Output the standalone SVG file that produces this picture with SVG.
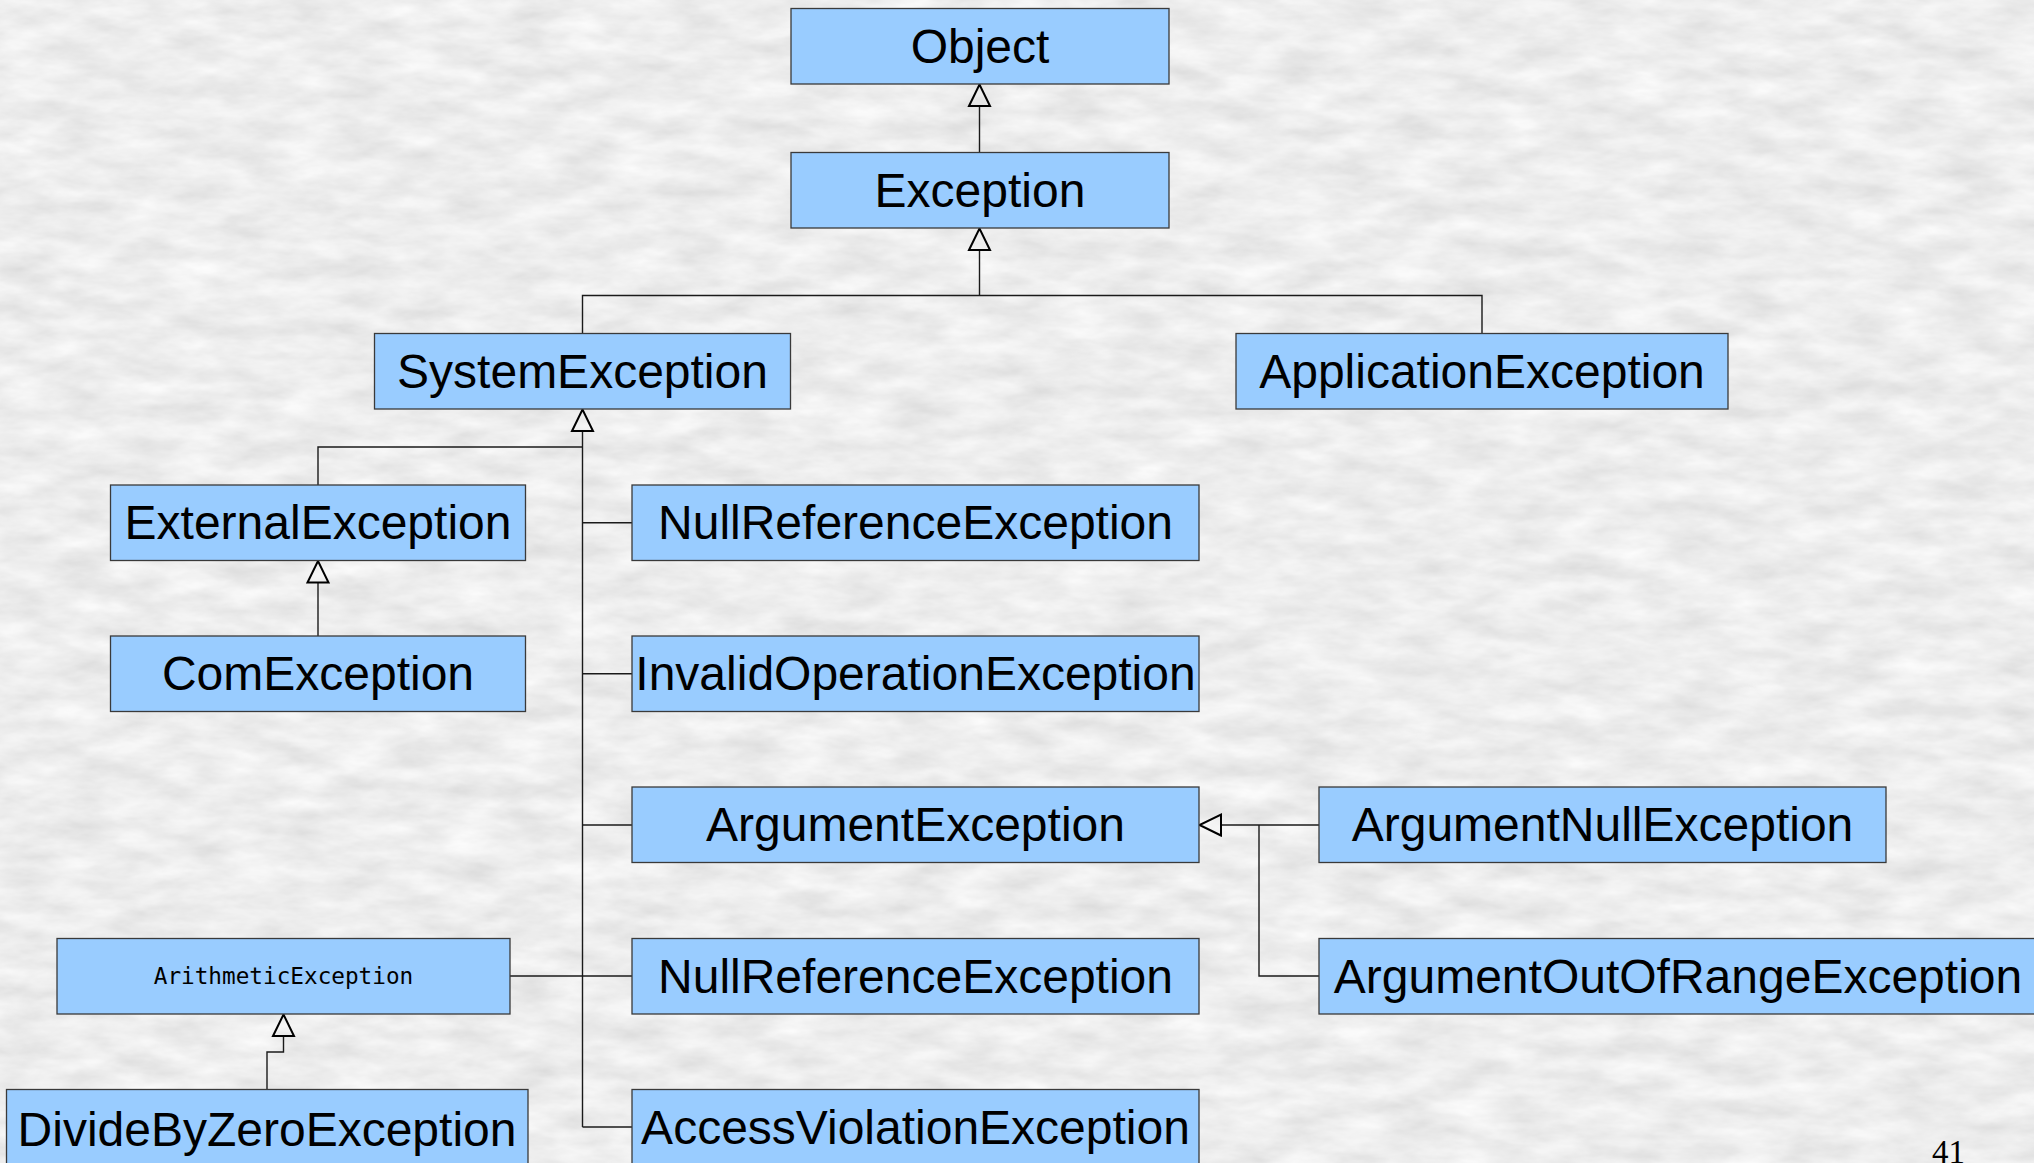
<svg xmlns="http://www.w3.org/2000/svg" width="2034" height="1163" viewBox="0 0 2034 1163">
  <style>
    .box { fill: #99CCFF; stroke: #3a3a3a; stroke-width: 1.3; }
    .lbl { font-family: "Liberation Sans", Arial, sans-serif; font-size: 48px; fill: #000; text-anchor: middle; }
    .mono { font-family: "DejaVu Sans Mono", "Liberation Mono", monospace; font-size: 22.7px; fill: #000; text-anchor: middle; }
    .conn { fill: none; stroke: #1a1a1a; stroke-width: 1.4; }
    .page { font-family: "Liberation Serif", "Times New Roman", serif; font-size: 33px; fill: #000; }
  </style>
  <defs>
    <filter id="marble" filterUnits="userSpaceOnUse" x="0" y="0" width="2034" height="1163">
      <feTurbulence type="fractalNoise" baseFrequency="0.018 0.05" numOctaves="4" seed="7" result="n"/>
      <feColorMatrix in="n" type="matrix" values="0.3 0 0 0 0.7  0.3 0 0 0 0.7  0.3 0 0 0 0.7  0 0 0 0 1"/>
    </filter>
    <marker id="gen" viewBox="-2 -13 26 26" markerWidth="26" markerHeight="26" refX="0" refY="0" markerUnits="userSpaceOnUse" orient="auto" overflow="visible">
      <path d="M0,-10.5 L21.5,0 L0,10.5 Z" fill="none" stroke="#000" stroke-width="2"/>
    </marker>
  </defs>

  <rect width="2034" height="1163" fill="#d9d9d9"/>
  <rect width="2034" height="1163" filter="url(#marble)"/>

  <g id="connectors">
    <path class="conn" d="M979.5,152.5 V106" marker-end="url(#gen)"/>
    <path class="conn" d="M582.5,333.5 V295.5 H1482 V333.5"/>
    <path class="conn" d="M979.5,295.5 V250" marker-end="url(#gen)"/>
    <path class="conn" d="M582.5,1127 V431" marker-end="url(#gen)"/>
    <path class="conn" d="M318,485 V447 H582.5"/>
    <path class="conn" d="M632,522.75 H582.5"/>
    <path class="conn" d="M632,673.75 H582.5"/>
    <path class="conn" d="M632,825 H582.5"/>
    <path class="conn" d="M510,976 H632"/>
    <path class="conn" d="M632,1127 H582.5"/>
    <path class="conn" d="M318,636 V582.5" marker-end="url(#gen)"/>
    <path class="conn" d="M267,1089.5 V1052 H283.5 V1036" marker-end="url(#gen)"/>
    <path class="conn" d="M1319,825 H1221" marker-end="url(#gen)"/>
    <path class="conn" d="M1319,976 H1259 V825"/>
  </g>

  <g id="object"><rect class="box" x="791" y="8.5" width="378" height="75.5"/><text class="lbl" x="980" y="62.5">Object</text></g>
  <g id="exception"><rect class="box" x="791" y="152.5" width="378" height="75.5"/><text class="lbl" x="980" y="206.5">Exception</text></g>
  <g id="systemexception"><rect class="box" x="374.5" y="333.5" width="416" height="75.5"/><text class="lbl" x="582.5" y="387.5">SystemException</text></g>
  <g id="applicationexception"><rect class="box" x="1236" y="333.5" width="492" height="75.5"/><text class="lbl" x="1482" y="387.5">ApplicationException</text></g>
  <g id="externalexception"><rect class="box" x="110.5" y="485" width="415" height="75.5"/><text class="lbl" x="318" y="539">ExternalException</text></g>
  <g id="comexception"><rect class="box" x="110.5" y="636" width="415" height="75.5"/><text class="lbl" x="318" y="690">ComException</text></g>
  <g id="nullreferenceexception1"><rect class="box" x="632" y="485" width="567" height="75.5"/><text class="lbl" x="915.5" y="539">NullReferenceException</text></g>
  <g id="invalidoperationexception"><rect class="box" x="632" y="636" width="567" height="75.5"/><text class="lbl" x="915.5" y="690">InvalidOperationException</text></g>
  <g id="argumentexception"><rect class="box" x="632" y="787" width="567" height="75.5"/><text class="lbl" x="915.5" y="841">ArgumentException</text></g>
  <g id="nullreferenceexception2"><rect class="box" x="632" y="938.5" width="567" height="75.5"/><text class="lbl" x="915.5" y="992.5">NullReferenceException</text></g>
  <g id="accessviolationexception"><rect class="box" x="632" y="1089.5" width="567" height="75.5"/><text class="lbl" x="915.5" y="1143.5">AccessViolationException</text></g>
  <g id="arithmeticexception"><rect class="box" x="57" y="938.5" width="453" height="75.5"/><text class="mono" x="283.5" y="983.5">ArithmeticException</text></g>
  <g id="dividebyzeroexception"><rect class="box" x="6.5" y="1089.5" width="521.5" height="75.5"/><text class="lbl" x="267" y="1146">DivideByZeroException</text></g>
  <g id="argumentnullexception"><rect class="box" x="1319" y="787" width="567" height="75.5"/><text class="lbl" x="1602.5" y="841">ArgumentNullException</text></g>
  <g id="argumentoutofrangeexception"><rect class="box" x="1319" y="938.5" width="730" height="75.5"/><text class="lbl" x="1678" y="992.5">ArgumentOutOfRangeException</text></g>

  <text class="page" x="1932" y="1163">41</text>
</svg>
